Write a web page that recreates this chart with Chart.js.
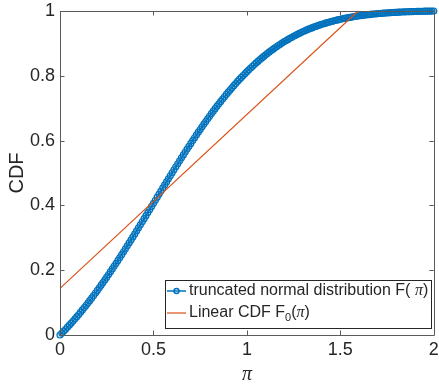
<!DOCTYPE html>
<html>
<head>
<meta charset="utf-8">
<script src="https://cdn.jsdelivr.net/npm/chart.js@4.4.1/dist/chart.umd.min.js"></script>
<style>
html,body{margin:0;padding:0;background:#fff;}
canvas{display:block;}
</style>
</head>
<body>
<canvas id="c" width="439" height="392"></canvas>
<script>
// ---- data ----
const piValues = [0,0.01,0.02,0.03,0.04,0.05,0.06,0.07,0.08,0.09,0.1,0.11,0.12,0.13,0.14,0.15,0.16,0.17,0.18,0.19,0.2,0.21,0.22,0.23,0.24,0.25,0.26,0.27,0.28,0.29,0.3,0.31,0.32,0.33,0.34,0.35,0.36,0.37,0.38,0.39,0.4,0.41,0.42,0.43,0.44,0.45,0.46,0.47,0.48,0.49,0.5,0.51,0.52,0.53,0.54,0.55,0.56,0.57,0.58,0.59,0.6,0.61,0.62,0.63,0.64,0.65,0.66,0.67,0.68,0.69,0.7,0.71,0.72,0.73,0.74,0.75,0.76,0.77,0.78,0.79,0.8,0.81,0.82,0.83,0.84,0.85,0.86,0.87,0.88,0.89,0.9,0.91,0.92,0.93,0.94,0.95,0.96,0.97,0.98,0.99,1,1.01,1.02,1.03,1.04,1.05,1.06,1.07,1.08,1.09,1.1,1.11,1.12,1.13,1.14,1.15,1.16,1.17,1.18,1.19,1.2,1.21,1.22,1.23,1.24,1.25,1.26,1.27,1.28,1.29,1.3,1.31,1.32,1.33,1.34,1.35,1.36,1.37,1.38,1.39,1.4,1.41,1.42,1.43,1.44,1.45,1.46,1.47,1.48,1.49,1.5,1.51,1.52,1.53,1.54,1.55,1.56,1.57,1.58,1.59,1.6,1.61,1.62,1.63,1.64,1.65,1.66,1.67,1.68,1.69,1.7,1.71,1.72,1.73,1.74,1.75,1.76,1.77,1.78,1.79,1.8,1.81,1.82,1.83,1.84,1.85,1.86,1.87,1.88,1.89,1.9,1.91,1.92,1.93,1.94,1.95,1.96,1.97,1.98,1.99,2];
const truncCdf = [0,0.0058,0.012,0.0178,0.024,0.0302,0.0366,0.0431,0.0498,0.0565,0.0633,0.0703,0.0773,0.0845,0.0918,0.0992,0.1067,0.1143,0.1219,0.1297,0.1376,0.1456,0.1537,0.1618,0.1701,0.1784,0.1868,0.1954,0.2039,0.2126,0.2213,0.2301,0.2390,0.2479,0.2569,0.2660,0.2751,0.2843,0.2935,0.3027,0.3120,0.3213,0.3307,0.3401,0.3495,0.3589,0.3684,0.3779,0.3874,0.3969,0.4064,0.4159,0.4253,0.4348,0.4443,0.4538,0.4632,0.4726,0.4820,0.4914,0.5007,0.5100,0.5193,0.5285,0.5376,0.5467,0.5558,0.5648,0.5737,0.5826,0.5914,0.6001,0.6088,0.6174,0.6259,0.6343,0.6426,0.6509,0.6590,0.6671,0.6751,0.6830,0.6908,0.6985,0.7061,0.7136,0.7209,0.7282,0.7354,0.7424,0.7494,0.7562,0.7630,0.7696,0.7761,0.7825,0.7887,0.7949,0.8010,0.8069,0.8127,0.8184,0.8240,0.8295,0.8348,0.8401,0.8452,0.8502,0.8551,0.8599,0.8646,0.8692,0.8736,0.8780,0.8822,0.8864,0.8904,0.8943,0.8981,0.9018,0.9055,0.9090,0.9124,0.9157,0.9189,0.9221,0.9251,0.9281,0.9309,0.9337,0.9364,0.9390,0.9415,0.9439,0.9463,0.9485,0.9507,0.9529,0.9549,0.9569,0.9588,0.9607,0.9625,0.9642,0.9658,0.9674,0.9689,0.9704,0.9718,0.9732,0.9745,0.9758,0.9770,0.9781,0.9793,0.9803,0.9814,0.9823,0.9833,0.9842,0.9850,0.9858,0.9866,0.9874,0.9881,0.9888,0.9895,0.9901,0.9907,0.9913,0.9918,0.9923,0.9929,0.9933,0.9938,0.9942,0.9946,0.9950,0.9954,0.9957,0.9960,0.9963,0.9966,0.9969,0.9972,0.9975,0.9977,0.9979,0.9981,0.9983,0.9985,0.9987,0.9989,0.9991,0.9992,0.9994,0.9995,0.9996,0.9998,0.9999,1.0000];
const linearX = [0, 1.595];
const linearCdf = [0.144, 1];
const xTickLabels = ['0','0.5','1','1.5','2'];
const yTickLabels = ['0','0.2','0.4','0.6','0.8','1'];
const seriesLabels = ['truncated normal distribution F( π)', 'Linear CDF F0(π)'];

const BLUE = '#0072BD', RED = '#D95319', TXT = '#262626', AX = '#5a5a5a';
const SANS = '"Liberation Sans", Arial, sans-serif';
const SERIF = '"Liberation Serif", "Times New Roman", serif';

const boxTicks = {
  id: 'boxTicks',
  afterDraw(chart) {
    const ctx = chart.ctx, a = chart.chartArea, sx = chart.scales.x, sy = chart.scales.y;
    const L = 4.5;
    ctx.save();
    ctx.strokeStyle = AX; ctx.lineWidth = 1;
    ctx.beginPath();
    ctx.rect(Math.round(a.left)+0.5, Math.round(a.top)+0.5, Math.round(a.right-a.left), Math.round(a.bottom-a.top));
    sx.ticks.forEach(t => {
      const p = Math.round(sx.getPixelForValue(t.value)) + 0.5;
      ctx.moveTo(p, a.bottom); ctx.lineTo(p, a.bottom - L);
      ctx.moveTo(p, a.top); ctx.lineTo(p, a.top + L);
    });
    sy.ticks.forEach(t => {
      const p = Math.round(sy.getPixelForValue(t.value)) + 0.5;
      ctx.moveTo(a.left, p); ctx.lineTo(a.left + L, p);
      ctx.moveTo(a.right, p); ctx.lineTo(a.right - L, p);
    });
    ctx.stroke();
    ctx.restore();
  }
};

const mathLegend = {
  id: 'mathLegend',
  afterDraw(chart) {
    const ctx = chart.ctx, a = chart.chartArea;
    const fs = 16;
    ctx.save();
    ctx.textBaseline = 'middle';
    const sans = fs + 'px ' + SANS, ital = 'italic ' + fs + 'px ' + SERIF, sub = '11px ' + SANS;
    ctx.font = sans;
    const w1a = ctx.measureText('truncated normal distribution F( ').width;
    const wParen = ctx.measureText(')').width;
    const w2a = ctx.measureText('Linear CDF F').width;
    const wOpen = ctx.measureText('(').width;
    ctx.font = ital;
    const wPi = ctx.measureText('π').width;
    ctx.font = sub;
    const wSub = ctx.measureText('0').width;
    const textW = Math.max(w1a + wPi + wParen, w2a + wSub + wOpen + wPi + wParen);
    const right = Math.round(a.right) - 3, bottom = Math.round(a.bottom) - 7;
    const width = Math.round(textW + 27), height = 48;
    const left = Math.round(right - width), top = bottom - height;
    ctx.fillStyle = '#fff';
    ctx.fillRect(left, top, width, height);
    ctx.strokeStyle = TXT; ctx.lineWidth = 1;
    ctx.strokeRect(left + 0.5, top + 0.5, width, height);
    const y1 = top + 11, y2 = top + 33;
    const sx0 = left + 2, sx1 = left + 21, tx = left + 24;
    ctx.strokeStyle = BLUE; ctx.lineWidth = 1.5;
    ctx.beginPath(); ctx.moveTo(sx0, y1); ctx.lineTo(sx1, y1); ctx.stroke();
    ctx.beginPath(); ctx.arc((sx0 + sx1) / 2, y1, 2.5, 0, Math.PI * 2); ctx.stroke();
    ctx.strokeStyle = RED; ctx.lineWidth = 1.2;
    ctx.beginPath(); ctx.moveTo(sx0, y2); ctx.lineTo(sx1, y2); ctx.stroke();
    ctx.fillStyle = TXT;
    let x = tx;
    ctx.font = sans; ctx.fillText('truncated normal distribution F( ', x, y1); x += w1a;
    ctx.font = ital; ctx.fillText('π', x, y1); x += wPi;
    ctx.font = sans; ctx.fillText(')', x, y1);
    x = tx;
    ctx.font = sans; ctx.fillText('Linear CDF F', x, y2); x += w2a;
    ctx.font = sub; ctx.fillText('0', x, y2 + 5); x += wSub;
    ctx.font = sans; ctx.fillText('(', x, y2); x += wOpen;
    ctx.font = ital; ctx.fillText('π', x, y2); x += wPi;
    ctx.font = sans; ctx.fillText(')', x, y2);
    ctx.restore();
  }
};

new Chart(document.getElementById('c'), {
  type: 'line',
  data: {
    datasets: [
      {
        label: seriesLabels[0],
        data: piValues.map((v, i) => ({x: v, y: truncCdf[i]})),
        borderColor: BLUE,
        borderWidth: 1.5,
        pointRadius: 3,
        pointBorderWidth: 1.2,
        pointBorderColor: BLUE,
        pointBackgroundColor: 'rgba(0,114,189,0.2)',
        pointStyle: 'circle',
        clip: false,
        order: 1
      },
      {
        label: seriesLabels[1],
        data: linearX.map((v, i) => ({x: v, y: linearCdf[i]})),
        borderColor: RED,
        borderWidth: 1.2,
        pointRadius: 0,
        clip: false,
        order: 0
      }
    ]
  },
  options: {
    responsive: false,
    animation: false,
    layout: {padding: {left: 0, right: 5, top: 11, bottom: 0}},
    plugins: {legend: {display: false}, tooltip: {enabled: false}},
    scales: {
      x: {
        type: 'linear', min: 0, max: 2,
        grid: {display: false, drawTicks: false},
        border: {display: false},
        ticks: {stepSize: 0.5, padding: 4, color: TXT, font: {family: SANS, size: 18},
          maxRotation: 0, callback: (v, i) => xTickLabels[i]},
        title: {display: true, text: 'π', color: TXT, font: {family: SERIF, size: 20, style: 'italic'},
          padding: {top: 0, bottom: 5}},
        afterFit: s => { s.height = 57; s.paddingLeft = 0; s.paddingRight = 0; }
      },
      y: {
        type: 'linear', min: 0, max: 1,
        grid: {display: false, drawTicks: false},
        border: {display: false},
        ticks: {stepSize: 0.2, padding: 5, color: TXT, font: {family: SANS, size: 18},
          callback: (v, i) => yTickLabels[i]},
        title: {display: true, text: 'CDF', color: TXT, font: {family: SANS, size: 20},
          padding: {top: 5, bottom: 0}},
        afterFit: s => { s.width = 60; s.paddingTop = 0; s.paddingBottom = 0; }
      }
    }
  },
  plugins: [boxTicks, mathLegend]
});
</script>
</body>
</html>
